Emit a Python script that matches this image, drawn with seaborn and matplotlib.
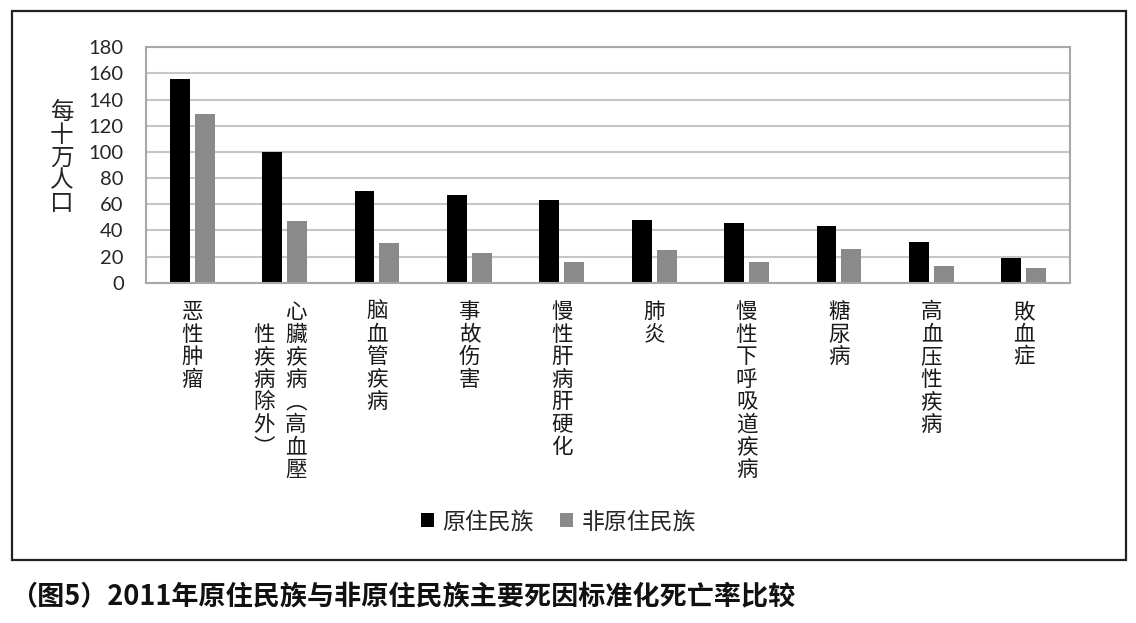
import pandas as pd
import matplotlib
matplotlib.use("Agg")
import matplotlib.pyplot as plt
import matplotlib.transforms as mtransforms
from matplotlib.patches import Rectangle
import seaborn as sns

# 数据
causes = ["恶性肿瘤", "心臟疾病（高血壓性疾病除外）", "脑血管疾病", "事故伤害", "慢性肝病肝硬化",
          "肺炎", "慢性下呼吸道疾病", "糖尿病", "高血压性疾病", "敗血症"]
groups = ["原住民族", "非原住民族"]
indigenous = [156, 100, 70, 67, 63, 48, 46, 43, 31, 19]
non_indigenous = [129, 47, 30, 23, 16, 25, 16, 26, 13, 11]
y_ticks = [0, 20, 40, 60, 80, 100, 120, 140, 160, 180]
y_label = "每十万人口"
caption = "（图5）2011年原住民族与非原住民族主要死因标准化死亡率比较"

df = pd.DataFrame({
    "cause": causes * 2,
    "group": [groups[0]] * len(causes) + [groups[1]] * len(causes),
    "rate": indigenous + non_indigenous,
})

sns.set_style("white")
plt.rcParams["font.family"] = ["Noto Sans CJK SC", "DejaVu Sans"]

fig = plt.figure(figsize=(11.36, 6.23), dpi=100)
ax = fig.add_axes([0.1285, 0.5462, 0.8134, 0.3779])

sns.barplot(data=df, x="cause", y="rate", hue="group", order=causes, hue_order=groups,
            palette=["#000000", "#8a8a8a"], width=0.54, gap=0.2, linewidth=0,
            ax=ax, legend=True)

ax.set_ylim(0, 180)
ax.set_xlim(-0.5, len(causes) - 0.5)
ax.set_yticks(y_ticks)
ax.yaxis.grid(True, color="#c6c6c6", linewidth=1.5)
ax.set_axisbelow(True)
for s in ax.spines.values():
    s.set_visible(True)
    s.set_color("#a8a8a8")
    s.set_linewidth(1.5)
ax.tick_params(axis="y", length=0, pad=16, labelsize=14.5)
for t in ax.get_yticklabels():
    t.set_family(["Lato", "DejaVu Sans"])
ax.set_xticks(range(len(causes)))
ax.set_xticklabels([])
ax.tick_params(axis="x", length=0)
ax.set_xlabel("")
ax.set_ylabel("")

# 纵轴标题（竖排）
fig.text(61.7 / 1136, 1 - 158 / 623, "\n".join(y_label), ha="center", va="center",
         fontsize=17, linespacing=1.0)

# 横轴类别标签（竖排，每列最多 8 字）
trans = mtransforms.blended_transform_factory(ax.transData, ax.transAxes)
vert = {"（": "︵", "）": "︶"}
step = 16.2
first = 21.1
for i, name in enumerate(causes):
    cols = [name[k:k + 8] for k in range(0, len(name), 8)]
    n = len(cols)
    for c, col in enumerate(cols):
        dx = 0 if n == 1 else (8.2 if c == 0 else -14.8)
        for j, ch in enumerate(col):
            ax.annotate(vert.get(ch, ch), xy=(i, 0), xycoords=trans,
                        xytext=(dx, -(first + (j + c) * step)), textcoords="offset points",
                        ha="center", va="center", fontsize=15.5, color="#1a1a1a")

# 图例
handles, labels = ax.get_legend_handles_labels()
ax.get_legend().remove()
fig.legend(handles, labels, loc="center", bbox_to_anchor=(558.5 / 1136, 1 - 521.7 / 623),
           ncol=2, frameon=False, fontsize=16.5, handlelength=0.57, handleheight=0.57,
           handletextpad=0.38, columnspacing=1.13)

# 外框
fig.patches.append(Rectangle((11.7 / 1136, 1 - 560 / 623), 1114 / 1136, 549.3 / 623,
                             transform=fig.transFigure, fill=False, edgecolor="#222222",
                             linewidth=1.6))

# 图注
fig.text(10 / 1136, 1 - 597 / 623, caption, ha="left", va="center", fontsize=19.5,
         fontweight="bold", color="#111111")

fig.savefig("out.png", dpi=100)
